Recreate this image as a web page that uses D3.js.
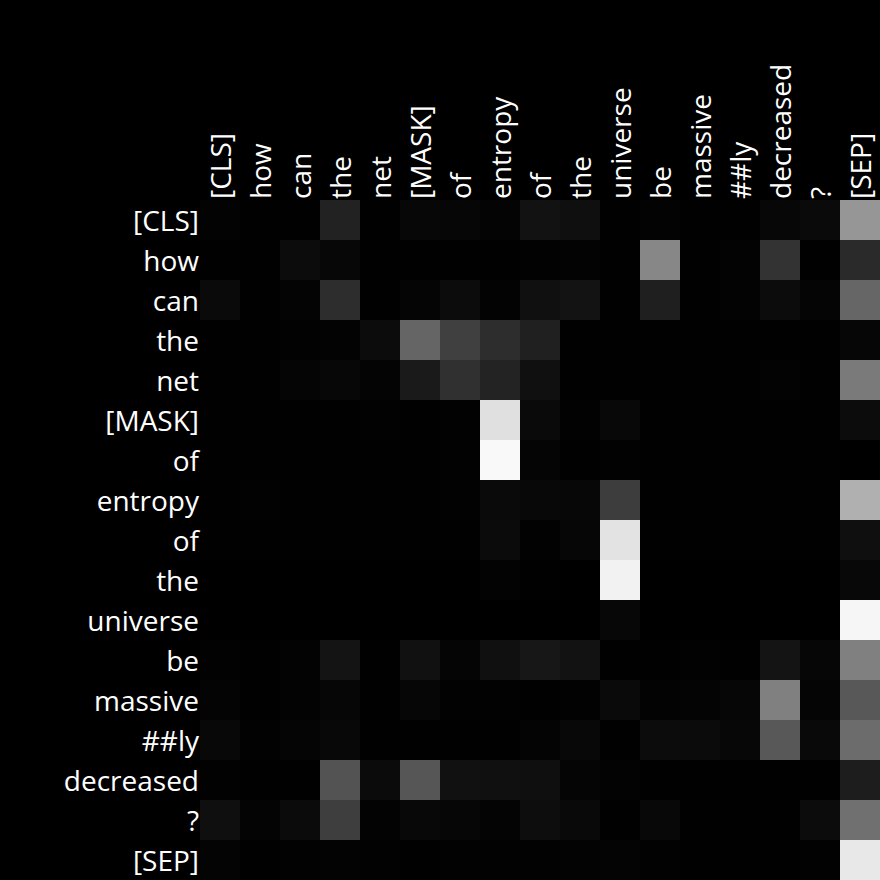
<!DOCTYPE html>
<html><head><meta charset="utf-8">
<script src="https://cdn.jsdelivr.net/npm/d3@7"></script>
<style>html,body{margin:0;padding:0;background:#000;}svg{display:block;}</style>
</head><body>
<script>
const tokens = ["[CLS]","how","can","the","net","[MASK]","of","entropy","of","the","universe","be","massive","##ly","decreased","?","[SEP]"];
// grey intensity per cell (0-255), rows = query tokens, columns = key tokens
const row0  = [3,1,1,34,1,7,6,4,18,15,1,3,1,1,7,10,150];
const row1  = [1,1,12,7,1,1,1,1,2,3,1,135,1,3,51,1,42];
const row2  = [10,1,4,45,1,5,12,3,16,19,1,31,1,3,12,5,102];
const row3  = [1,1,2,3,12,101,64,45,32,1,1,1,1,1,1,1,6];
const row4  = [1,1,5,7,4,26,48,35,16,1,1,1,1,1,3,1,122];
const row5  = [1,1,1,1,2,1,2,224,10,2,8,1,1,1,1,1,12];
const row6  = [1,1,1,1,1,1,2,249,5,1,2,1,1,1,1,1,0];
const row7  = [1,2,1,1,1,1,2,10,8,7,61,1,1,1,1,1,176];
const row8  = [1,1,1,1,1,1,1,11,2,6,227,1,1,1,1,1,15];
const row9  = [0,0,0,0,0,0,0,3,1,0,242,0,0,0,0,0,8];
const row10 = [0,0,0,0,0,0,0,0,0,0,7,0,0,0,0,0,246];
const row11 = [2,1,3,20,1,17,5,16,23,18,1,1,2,1,20,6,128];
const row12 = [4,1,3,6,1,6,2,2,1,2,10,3,4,6,128,5,88];
const row13 = [8,2,5,8,1,1,1,1,4,8,1,12,11,7,88,9,108];
const row14 = [2,1,1,83,11,86,17,16,15,5,3,1,1,1,1,1,29];
const row15 = [15,4,11,62,3,8,6,4,13,9,1,8,1,1,1,12,112];
const row16 = [4,1,2,3,2,1,2,2,2,3,4,2,1,1,1,2,232];
const rows = [row0,row1,row2,row3,row4,row5,row6,row7,row8,row9,row10,row11,row12,row13,row14,row15,row16];

const W = 880, H = 880;
const svg = d3.select("body").append("svg").attr("width", W).attr("height", H)
  .style("background", "#000");
svg.append("rect").attr("width", W).attr("height", H).attr("fill", "#000");

const x = d3.scaleBand().domain(d3.range(tokens.length)).range([200, 880]);
const y = d3.scaleBand().domain(d3.range(tokens.length)).range([200, 880]);
const color = d3.scaleLinear().domain([0, 255]).range(["#000000", "#ffffff"]);

const cells = [];
rows.forEach((r, i) => r.forEach((v, j) => cells.push({i, j, v})));
svg.append("g").selectAll("rect").data(cells).join("rect")
  .attr("x", d => x(d.j)).attr("y", d => y(d.i))
  .attr("width", x.bandwidth()).attr("height", y.bandwidth())
  .attr("fill", d => color(d.v)).attr("shape-rendering", "crispEdges");

const font = "'Open Sans', 'Noto Sans', sans-serif";
svg.append("g").selectAll("text").data(tokens).join("text")
  .attr("x", 199).attr("y", (d, i) => y(i) + y.bandwidth() / 2)
  .attr("text-anchor", "end").attr("dominant-baseline", "central")
  .attr("fill", "#fff").style("font-family", font).style("font-size", "28px")
  .text(d => d);

svg.append("g").selectAll("text").data(tokens).join("text")
  .attr("transform", (d, i) => `translate(${x(i) + x.bandwidth() / 2},199) rotate(-90)`)
  .attr("text-anchor", "start").attr("dominant-baseline", "central")
  .attr("fill", "#fff").style("font-family", font).style("font-size", "28px")
  .text(d => d);
</script>
</body></html>
